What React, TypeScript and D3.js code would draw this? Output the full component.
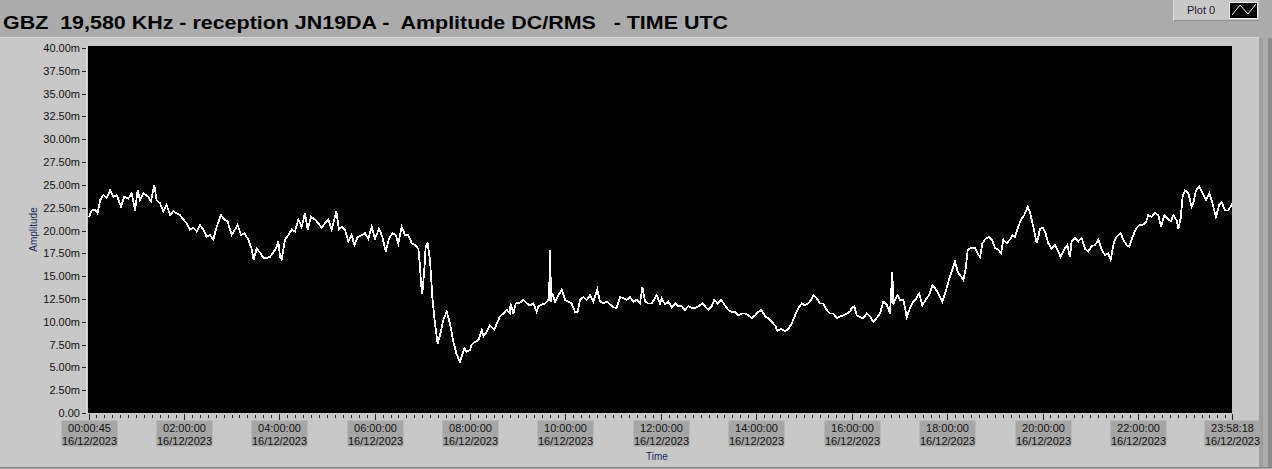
import { useEffect, useRef } from 'react';
import * as d3 from 'd3';

const TITLE = 'GBZ  19,580 KHz - reception JN19DA -  Amplitude DC/RMS   - TIME UTC';
const DATE_LABEL = '16/12/2023';
const LEGEND_LABEL = 'Plot 0';

// x axis: minutes since midnight UTC
const xTickMinutes = [0.75, 120, 240, 360, 480, 600, 720, 840, 960, 1080, 1200, 1320, 1438.3];
const xTickLabels = [
  '00:00:45', '02:00:00', '04:00:00', '06:00:00', '08:00:00', '10:00:00', '12:00:00',
  '14:00:00', '16:00:00', '18:00:00', '20:00:00', '22:00:00', '23:58:18',
];

// y axis in mV
const yTickValues = [0, 2.5, 5, 7.5, 10, 12.5, 15, 17.5, 20, 22.5, 25, 27.5, 30, 32.5, 35, 37.5, 40];
const yTickLabels = [
  '0.00', '2.50m', '5.00m', '7.50m', '10.00m', '12.50m', '15.00m', '17.50m', '20.00m',
  '22.50m', '25.00m', '27.50m', '30.00m', '32.50m', '35.00m', '37.50m', '40.00m',
];

// amplitude samples
const sampleMinutes = [
  0.75, 4.1, 8.3, 11.6, 14.6, 18.8, 23.0, 27.2, 31.4, 35.5, 41.0, 45.2, 50.2, 54.4, 58.6, 62.0,
  64.9, 69.1, 75.4, 78.7, 82.9, 85.8, 90.0, 94.2, 98.4, 102.6, 106.8, 111.0, 115.2, 119.4, 123.6,
  127.8, 132.0, 136.2, 140.3, 144.5, 148.7, 152.9, 157.1, 161.3, 166.7, 170.9, 175.1, 180.2, 184.4,
  187.7, 191.9, 196.1, 201.1, 205.3, 207.8, 211.6, 215.8, 220.0, 224.2, 228.4, 232.6, 236.8, 238.9,
  241.0, 243.1, 247.3, 251.5, 255.7, 259.9, 264.0, 268.2, 272.4, 275.8, 280.0, 285.0, 289.2, 293.4,
  297.6, 301.8, 306.0, 311.8, 315.2, 318.5, 322.7, 326.9, 331.1, 334.5, 338.7, 343.7, 347.9, 352.1,
  356.3, 360.5, 365.5, 369.7, 373.9, 378.1, 382.3, 386.5, 389.8, 394.0, 398.2, 402.4, 406.6, 410.8,
  415.0, 417.1, 418.3, 420.0, 422.5, 424.2, 426.7, 429.6, 432.6, 435.9, 439.3, 442.2, 446.4, 450.6,
  454.8, 459.0, 463.2, 467.4, 470.3, 472.8, 475.7, 479.9,
  482.1, 486.3, 490.5, 494.7, 496.8, 501.0, 505.1, 510.6, 513.5, 517.7, 521.9, 526.1, 530.3, 530.9,
  534.5, 537.4, 542.9, 547.1, 551.3, 555.4, 559.6, 563.8, 565.9, 570.1, 574.3, 578.5, 580.2, 580.6,
  581.0, 581.6, 583.5, 586.9, 591.1, 595.3, 599.5, 603.7, 607.8, 612.0, 615.4, 618.3, 622.5, 626.7,
  630.9, 635.1, 640.1, 643.5, 647.7, 651.9, 656.1, 660.2, 664.4, 668.6, 672.8, 677.0, 681.2, 685.4,
  689.6, 693.8, 696.7, 700.1, 704.3, 708.4, 714.7, 718.9,
  721.0, 725.2, 729.4, 733.6, 738.6, 741.9, 746.1, 750.3, 754.5, 758.7, 762.9, 767.1, 772.1, 775.5,
  779.7, 783.9, 787.2, 791.4, 795.6, 800.6, 804.8, 809.0, 813.2, 817.4, 821.6, 825.8, 830.0, 834.2,
  838.4, 842.6, 846.7, 850.9, 855.1, 859.3, 863.5, 866.9, 871.1, 876.1, 880.3, 884.5, 888.7, 892.9,
  897.1, 901.2, 905.4, 908.8, 911.7, 915.9, 920.1, 924.3, 928.5, 932.7, 936.9, 941.1, 945.3, 949.4,
  953.6, 957.8,
  960.0, 963.3, 966.3, 970.5, 974.7, 978.8, 983.0, 987.2, 991.4, 995.6, 999.8, 1004.0, 1008.2, 1011.1,
  1012.4, 1014.5, 1017.8, 1020.8, 1025.0, 1029.2, 1033.3, 1037.5, 1041.7, 1044.7, 1048.9, 1053.0,
  1057.2, 1061.4, 1065.6, 1069.8, 1074.0, 1078.2, 1082.4, 1086.6, 1089.9, 1093.3, 1096.2, 1100.4,
  1103.4, 1105.9, 1110.1, 1115.1, 1118.4, 1121.4, 1124.3, 1128.5, 1132.7, 1136.9, 1140.2, 1144.4,
  1147.8, 1150.7, 1154.9, 1159.1, 1162.0, 1165.4, 1168.7, 1172.9, 1177.1, 1181.3, 1184.3, 1188.4,
  1192.6, 1194.7, 1196.8,
  1200.2, 1203.1, 1207.3, 1211.5, 1215.7, 1219.9, 1222.8, 1227.0, 1231.2, 1234.5, 1236.6, 1240.8,
  1245.0, 1249.2, 1253.4, 1257.6, 1261.8, 1266.0, 1270.2, 1274.4, 1278.5, 1282.7, 1285.7, 1289.9,
  1294.1, 1298.2, 1301.6, 1305.8, 1309.1, 1313.3, 1317.5, 1321.7, 1325.9, 1330.1, 1333.0, 1337.2,
  1341.4, 1345.6, 1349.0, 1353.2, 1357.4, 1361.5, 1364.5, 1368.7, 1370.8, 1373.7, 1376.2, 1379.2,
  1383.3, 1387.5, 1389.6, 1393.0, 1397.2, 1401.4, 1405.6, 1409.8, 1414.0, 1418.1, 1422.3, 1425.3,
  1429.5, 1433.6, 1437.8, 1438.3,
];

const amplitudeMv = [
  21.5, 22.2, 22.3, 21.9, 23.3, 23.9, 23.6, 24.4, 23.7, 23.9, 22.6, 23.7, 23.5, 24.1, 22.2, 24.4,
  23.3, 24.1, 23.7, 23.2, 25.0, 23.3, 23.0, 22.1, 22.8, 21.7, 22.1, 21.9, 21.7, 21.2, 20.8,
  20.1, 20.3, 19.9, 20.6, 20.1, 19.3, 19.5, 19.0, 20.4, 21.7, 21.2, 21.0, 19.5, 20.1,
  20.6, 19.5, 19.7, 19.0, 18.0, 16.8, 18.0, 17.6, 17.0, 17.0, 17.1, 17.6, 18.2, 18.8,
  17.1, 16.8, 19.0, 19.5, 20.1, 19.9, 21.2, 20.4, 21.9, 20.1, 21.5, 21.2, 20.8, 20.3,
  20.8, 21.2, 20.1, 22.1, 20.1, 20.4, 20.1, 18.8, 19.5, 18.4, 19.3, 19.5, 19.7, 19.1,
  20.4, 19.1, 20.2, 19.3, 17.7, 19.1, 19.7, 19.5, 18.6, 20.4, 19.5, 19.5, 18.6, 18.4,
  18.0, 16.0, 14.2, 13.1, 15.7, 18.2, 18.6, 16.8, 12.7, 9.8, 7.6, 8.5, 10.2, 11.1,
  9.8, 7.8, 6.4, 5.6, 6.4, 7.1, 6.7, 6.9,
  7.5, 7.8, 8.0, 9.1, 8.4, 8.9, 9.6, 9.1, 9.8, 10.6, 10.9, 11.3, 10.9, 12.0,
  10.9, 12.0, 12.1, 12.4, 12.0, 11.8, 12.0, 11.1, 11.7, 11.9, 12.0, 12.4, 14.9, 12.3,
  17.9, 12.2, 13.1, 12.2, 12.9, 13.5, 12.4, 12.2, 12.0, 11.1, 11.1, 12.4, 12.7, 12.4,
  12.9, 12.2, 13.5, 12.2, 12.0, 12.2, 11.9, 11.6, 11.5, 12.7, 12.6, 12.4, 12.7, 12.2,
  12.4, 12.0, 13.8, 12.2, 12.0, 12.0, 12.9, 12.0,
  12.6, 11.9, 12.2, 11.6, 12.0, 11.7, 11.7, 11.3, 11.7, 11.5, 11.5, 11.7, 12.0, 11.7,
  11.3, 11.7, 12.4, 12.0, 12.4, 11.8, 11.3, 11.1, 11.1, 10.7, 10.9, 10.9, 10.7, 10.4,
  10.7, 11.1, 11.3, 10.6, 10.4, 10.0, 9.6, 9.0, 9.2, 9.0, 9.2, 9.8, 10.7, 11.5,
  12.0, 11.8, 12.0, 12.4, 12.9, 12.6, 12.0, 12.0, 11.3, 10.9, 10.9, 10.4, 10.6, 10.7,
  10.9, 11.1,
  11.5, 11.7, 10.7, 10.5, 10.4, 10.9, 10.6, 10.0, 10.4, 10.9, 12.2, 11.9, 10.9, 15.5,
  11.9, 12.4, 12.9, 12.4, 12.4, 10.5, 11.5, 12.2, 12.6, 13.1, 11.8, 12.4,
  12.9, 14.0, 13.6, 12.9, 12.2, 13.3, 14.6, 15.7, 16.6, 15.5, 15.1, 14.6,
  15.8, 17.9, 18.1, 18.1, 17.5, 17.1, 18.6, 19.1, 19.3, 18.9, 18.1, 17.9,
  17.5, 19.0, 18.6, 19.0, 19.5, 19.3, 20.2, 21.2, 21.7, 22.6, 22.0, 20.4,
  18.6, 19.3, 20.2,
  20.3, 19.9, 18.6, 18.0, 18.4, 17.7, 17.1, 17.9, 18.4, 17.1, 18.8, 19.2,
  18.8, 19.2, 18.0, 17.7, 18.3, 18.4, 19.0, 17.9, 17.3, 17.5, 16.8, 18.8,
  19.4, 19.7, 19.0, 18.4, 18.2, 19.3, 20.2, 20.6, 20.6, 20.9, 21.7, 21.5,
  21.9, 21.7, 20.4, 21.7, 21.3, 21.0, 21.7, 21.1, 20.2, 21.3, 23.7, 24.4,
  24.1, 22.6, 23.0, 24.4, 24.8, 24.1, 23.3, 24.1, 22.9, 21.5, 22.8, 23.1,
  22.2, 22.2, 22.8, 23.0,
];

const WIDTH = 1272;
const HEIGHT = 469;

export default function App() {
  const svgRef = useRef<SVGSVGElement>(null);

  useEffect(() => {
    if (!svgRef.current) return;
    const svg = d3.select(svgRef.current);
    svg.selectAll('*').remove();

    const plot = { left: 88, right: 1232, top: 46, bottom: 413 };
    const font = '"Liberation Sans", Arial, sans-serif';

    // window chrome
    svg.append('rect').attr('width', WIDTH).attr('height', HEIGHT).attr('fill', '#ababab');
    svg.append('rect').attr('x', 0).attr('y', 37).attr('width', 1259).attr('height', 430).attr('fill', '#c8c8c8');
    svg.append('line').attr('x1', 0).attr('x2', 1259).attr('y1', 37.5).attr('y2', 37.5).attr('stroke', '#d6d6d6');
    svg.append('line').attr('x1', 0).attr('x2', 1272).attr('y1', 467.5).attr('y2', 467.5).attr('stroke', '#858585');
    svg.append('rect').attr('x', 1259).attr('y', 38).attr('width', 4).attr('height', 429).attr('fill', '#9e9e9e');
    svg.append('rect').attr('x', 1263).attr('y', 38).attr('width', 5).attr('height', 429).attr('fill', '#acacac');
    svg.append('rect').attr('x', 1268).attr('y', 38).attr('width', 4).attr('height', 429).attr('fill', '#8c8c8c');

    // title
    svg.append('text')
      .attr('x', 3)
      .attr('y', 29)
      .attr('font-family', font)
      .attr('font-weight', 'bold')
      .attr('font-size', 19)
      .attr('fill', '#000')
      .attr('textLength', 725)
      .attr('lengthAdjust', 'spacingAndGlyphs')
      .style('white-space', 'pre')
      .text(TITLE);

    // legend
    const legend = svg.append('g');
    legend.append('rect').attr('x', 1173).attr('y', 0).attr('width', 86).attr('height', 20).attr('fill', '#c8c8c8');
    legend.append('line').attr('x1', 1173).attr('x2', 1259).attr('y1', 20.5).attr('y2', 20.5).attr('stroke', '#8e8e8e');
    legend.append('line').attr('x1', 1173.5).attr('x2', 1173.5).attr('y1', 0).attr('y2', 21).attr('stroke', '#e2e2e2');
    legend.append('text')
      .attr('x', 1187)
      .attr('y', 14)
      .attr('font-family', font)
      .attr('font-size', 11)
      .attr('fill', '#1a1a33')
      .text(LEGEND_LABEL);
    legend.append('rect').attr('x', 1229.5).attr('y', 2.5).attr('width', 28).attr('height', 16)
      .attr('fill', '#000').attr('stroke', '#f0f0f0');
    legend.append('polyline')
      .attr('points', '1232,15 1240,5 1248,14 1256,4')
      .attr('fill', 'none').attr('stroke', '#fff').attr('stroke-width', 1);

    // scales
    const x = d3.scaleLinear().domain([xTickMinutes[0], xTickMinutes[xTickMinutes.length - 1]]).range([plot.left + 1, plot.right]);
    const y = d3.scaleLinear().domain([0, 40]).range([plot.bottom, plot.top + 2]);

    // plot area
    svg.append('rect')
      .attr('x', plot.left).attr('y', plot.top)
      .attr('width', plot.right - plot.left).attr('height', plot.bottom - plot.top)
      .attr('fill', '#000');
    svg.append('line').attr('x1', plot.left - 1.5).attr('x2', plot.left - 1.5).attr('y1', plot.top).attr('y2', plot.bottom + 1).attr('stroke', '#dedede');

    svg.append('clipPath').attr('id', 'plot-clip')
      .append('rect')
      .attr('x', plot.left).attr('y', plot.top)
      .attr('width', plot.right - plot.left).attr('height', plot.bottom - plot.top);

    const points = sampleMinutes.map((m, i) => [m, amplitudeMv[i]] as [number, number]);
    const line = d3.line<[number, number]>().x(d => x(d[0])).y(d => y(d[1]));
    svg.append('path')
      .datum(points)
      .attr('clip-path', 'url(#plot-clip)')
      .attr('d', line)
      .attr('fill', 'none')
      .attr('stroke', '#fff')
      .attr('stroke-width', 1.8)
      .attr('stroke-linejoin', 'miter')
      .attr('shape-rendering', 'crispEdges');

    // y axis
    const yAxis = svg.append('g');
    yTickValues.forEach((v, i) => {
      const yy = Math.round(y(v)) + 0.5;
      yAxis.append('line').attr('x1', 82).attr('x2', 86).attr('y1', yy).attr('y2', yy).attr('stroke', '#222');
      yAxis.append('text')
        .attr('x', 80)
        .attr('y', yy)
        .attr('dy', '0.35em')
        .attr('text-anchor', 'end')
        .attr('font-family', font)
        .attr('font-size', 11)
        .attr('fill', '#111')
        .text(yTickLabels[i]);
    });
    svg.append('text')
      .attr('transform', `translate(37,${(plot.top + plot.bottom) / 2}) rotate(-90)`)
      .attr('text-anchor', 'middle')
      .attr('font-family', font)
      .attr('font-size', 10)
      .attr('fill', '#1b2a5a')
      .text('Amplitude');

    // x axis ticks
    const xAxis = svg.append('g');
    const minorTicks = d3.range(10, 1440, 10).filter(m => m < xTickMinutes[xTickMinutes.length - 1] && m % 120 !== 0);
    minorTicks.forEach(m => {
      const xx = Math.round(x(m)) + 0.5;
      xAxis.append('line').attr('x1', xx).attr('x2', xx).attr('y1', 415).attr('y2', 418).attr('stroke', '#222');
    });
    xTickMinutes.forEach((m, i) => {
      const xx = Math.round(x(m)) + 0.5;
      xAxis.append('line').attr('x1', xx).attr('x2', xx).attr('y1', 414).attr('y2', 420).attr('stroke', '#222');
      xAxis.append('rect').attr('x', xx - 28).attr('y', 420.5).attr('width', 56).attr('height', 26).attr('fill', '#a6a6a6');
      xAxis.append('text')
        .attr('x', xx).attr('y', 432)
        .attr('text-anchor', 'middle')
        .attr('font-family', font).attr('font-size', 11).attr('fill', '#111')
        .text(xTickLabels[i]);
      xAxis.append('text')
        .attr('x', xx).attr('y', 445)
        .attr('text-anchor', 'middle')
        .attr('font-family', font).attr('font-size', 11).attr('fill', '#111')
        .text(DATE_LABEL);
    });
    svg.append('text')
      .attr('x', 657).attr('y', 460)
      .attr('text-anchor', 'middle')
      .attr('font-family', font)
      .attr('font-size', 10)
      .attr('fill', '#1b2a5a')
      .text('Time');
  }, []);

  return (
    <div style={{ position: 'absolute', left: 0, top: 0 }}>
      <svg ref={svgRef} width={WIDTH} height={HEIGHT} style={{ display: 'block' }}></svg>
    </div>
  );
}
